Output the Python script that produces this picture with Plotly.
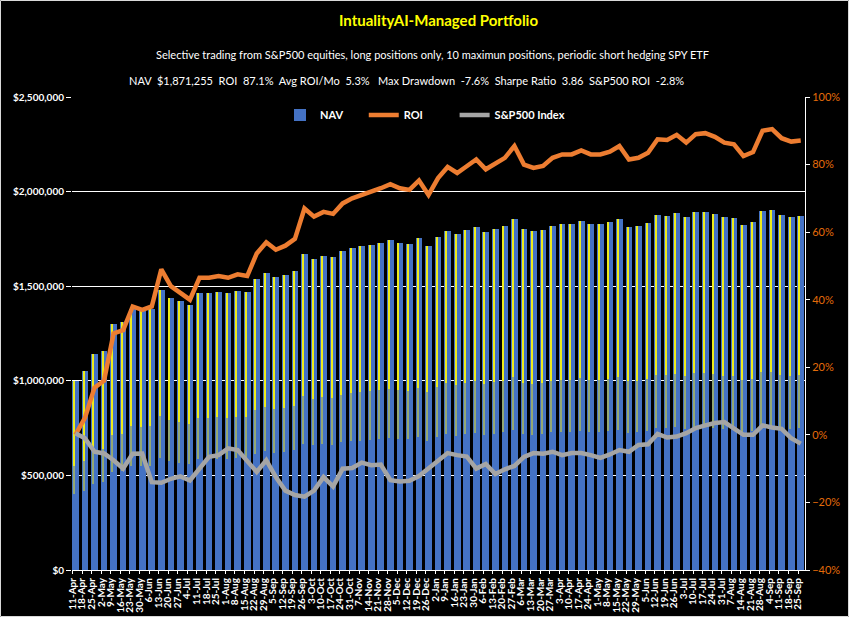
import plotly.graph_objects as go
import pandas as pd

# ---------------- data (weekly) ----------------
week_start = "2022-04-11"

# NAV in dollars (weekly)
nav = [1000000, 1050000, 1140000, 1160000, 1300000, 1310000, 1380000, 1370000,
       1380000, 1480000, 1440000, 1420000, 1400000, 1465000, 1465000, 1470000,
       1465000, 1475000, 1470000, 1537000, 1570000, 1548000, 1560000, 1580000,
       1670000, 1646000, 1660000, 1654000, 1685000, 1700000, 1710000, 1718000,
       1730000, 1742000, 1730000, 1725000, 1753000, 1710000, 1760000, 1793000,
       1775000, 1795000, 1815000, 1786000, 1802000, 1820000, 1855000, 1800000,
       1790000, 1796000, 1820000, 1830000, 1830000, 1842000, 1830000, 1830000,
       1838000, 1855000, 1815000, 1820000, 1835000, 1875000, 1873000, 1888000,
       1865000, 1890000, 1893000, 1882000, 1865000, 1860000, 1825000, 1837000,
       1900000, 1905000, 1878000, 1868000, 1871255]

# ROI in percent (weekly)
roi = [0.0, 5.0, 14.0, 16.0, 30.0, 31.0, 38.0, 37.0, 38.0, 49.0, 44.0, 42.0,
       40.0, 46.5, 46.5, 47.0, 46.5, 47.5, 47.0, 53.7, 57.0, 54.8, 56.0, 58.0,
       67.0, 64.6, 66.0, 65.4, 68.5, 70.0, 71.0, 71.8, 73.0, 74.2, 73.0, 72.5,
       75.3, 71.0, 76.0, 79.3, 77.5, 79.5, 81.5, 78.6, 80.2, 82.0, 85.5, 80.0,
       79.0, 79.6, 82.0, 83.0, 83.0, 84.2, 83.0, 83.0, 83.8, 85.5, 81.5, 82.0,
       83.5, 87.5, 87.3, 88.8, 86.5, 89.0, 89.3, 88.2, 86.5, 86.0, 82.5, 83.7,
       90.0, 90.5, 87.8, 86.8, 87.1]

# S&P500 index change in percent (weekly)
sp500 = [0.5, -1.0, -5.0, -5.5, -7.5, -10.0, -5.6, -5.5, -14.0, -14.2, -13.0,
         -12.3, -13.5, -10.0, -6.5, -6.0, -4.0, -4.5, -7.6, -11.0, -7.5, -12.5,
         -16.5, -17.8, -18.3, -16.5, -12.5, -15.3, -10.0, -9.8, -8.2, -9.0, -8.8,
         -13.4, -13.8, -13.6, -12.2, -10.0, -7.7, -5.4, -6.0, -6.4, -10.0, -8.6,
         -11.6, -10.2, -9.2, -6.5, -5.4, -5.6, -5.0, -6.0, -5.4, -5.4, -6.0, -6.8,
         -5.8, -4.5, -5.0, -3.0, -2.8, 0.3, -0.8, -0.5, 0.5, 2.0, 2.8, 3.5, 3.8,
         2.0, 0.0, 0.0, 2.8, 2.2, 1.8, -1.0, -2.6]

series_names = ["NAV", "ROI", "S&P500 Index"]

title_text = "IntualityAI-Managed Portfolio"
subtitle1 = ("Selective trading from S&P500 equities, long positions only, "
             "10 maximun positions, periodic short hedging SPY ETF")
subtitle2 = ("NAV\u00a0\u00a0$1,871,255\u00a0\u00a0ROI\u00a0\u00a087.1%\u00a0\u00a0"
             "Avg ROI/Mo\u00a0\u00a05.3%\u00a0\u00a0\u00a0Max Drawdown\u00a0\u00a0-7.6%"
             "\u00a0\u00a0Sharpe Ratio\u00a0\u00a03.86\u00a0\u00a0S&P500 ROI\u00a0\u00a0-2.8%")

# ---------------- figure ----------------
W, H = 849, 617
ML, MR, MT, MB = 72, 44, 97, 47
PW, PH = W - ML - MR, H - MT - MB
DAY = 86400000

weeks = pd.date_range(week_start, periods=len(nav), freq="7D")
mid = weeks + pd.Timedelta(days=2)
stripe = weeks + pd.Timedelta(days=1)

BLUE = "#4472C4"
ORANGE = "#ED7D31"
GREY = "#A5A5A5"
FONT = "Lato"
PAD = "\u00a0"

fig = go.Figure()
fig.add_trace(go.Bar(x=mid, y=nav, width=4.9 * DAY, name=series_names[0] + PAD * 6,
                     marker=dict(color=BLUE, line=dict(width=0))))
# gradient-like yellow streak inside each weekly block
fig.add_trace(go.Bar(x=stripe, y=[v * 0.15 for v in nav], base=[v * 0.40 for v in nav],
                     width=0.8 * DAY, marker=dict(color="#93A874", line=dict(width=0)),
                     showlegend=False, hoverinfo="skip"))
fig.add_trace(go.Bar(x=stripe, y=[v * 0.45 for v in nav], base=[v * 0.55 for v in nav],
                     width=0.8 * DAY, marker=dict(color="#EDED1A", line=dict(width=0)),
                     showlegend=False, hoverinfo="skip"))
fig.add_trace(go.Scatter(x=mid, y=roi, name=series_names[1] + PAD * 10, yaxis="y2", mode="lines",
                         line=dict(color=ORANGE, width=4.5)))
fig.add_trace(go.Scatter(x=mid, y=sp500, name=series_names[2], yaxis="y2", mode="lines",
                         line=dict(color=GREY, width=4.5)))

def px_x(p):
    return (p - ML) / PW

def px_y(p):
    return (H - MB - p) / PH

fig.update_layout(
    width=W, height=H,
    margin=dict(l=ML, r=MR, t=MT, b=MB, autoexpand=False),
    paper_bgcolor="black", plot_bgcolor="black",
    barmode="overlay", bargap=0,
    font=dict(family=FONT, color="white"),
    showlegend=True,
    legend=dict(orientation="h", x=px_x(280), xanchor="left", y=px_y(115), yanchor="middle",
                font=dict(family=FONT, size=11, color="white", weight="bold"),
                bgcolor="rgba(0,0,0,0)", traceorder="normal"),
    xaxis=dict(type="date", range=["2022-04-10 12:00", "2023-09-30 03:00"],
               tick0=week_start, dtick=7 * DAY, tickformat="%-d-%b", tickangle=-90,
               tickfont=dict(family=FONT, size=10, color="white", weight="bold"),
               showgrid=False, showline=True, linecolor="white", linewidth=1,
               ticks="outside", ticklen=3, tickcolor="white", automargin=False, zeroline=False),
    yaxis=dict(range=[0, 2500000], dtick=500000, tickformat="$,.0f",
               tickfont=dict(family=FONT, size=10, color="white", weight="bold"),
               showgrid=True, gridcolor="white", gridwidth=1, zeroline=False,
               showline=False, ticks="outside", ticklen=5, tickcolor="white",
               automargin=False),
    yaxis2=dict(range=[-40, 100], dtick=20, ticksuffix="%", overlaying="y", side="right",
                tickfont=dict(family=FONT, size=11, color="#E46C0A"),
                showgrid=False, zeroline=False, showline=True, linecolor="white", linewidth=1,
                ticks="outside", ticklen=4, tickcolor="white", automargin=False),
    annotations=[
        dict(text=f"<b>{title_text}</b>", x=px_x(438), y=px_y(20), xref="paper", yref="paper",
             showarrow=False, xanchor="center", yanchor="middle",
             font=dict(family=FONT, size=15, color="#FFFF00")),
        dict(text=subtitle1, x=px_x(432), y=px_y(54), xref="paper", yref="paper",
             showarrow=False, xanchor="center", yanchor="middle",
             font=dict(family=FONT, size=11, color="white")),
        dict(text=subtitle2, x=px_x(406), y=px_y(80), xref="paper", yref="paper",
             showarrow=False, xanchor="center", yanchor="middle",
             font=dict(family=FONT, size=11, color="white")),
    ],
    shapes=[dict(type="rect", xref="paper", yref="paper",
                 x0=px_x(0.5), x1=px_x(W - 0.5), y0=px_y(H - 0.5), y1=px_y(0.5),
                 line=dict(color="#D9D9D9", width=1), fillcolor="rgba(0,0,0,0)", layer="above")],
)

fig.write_html("out.html")
